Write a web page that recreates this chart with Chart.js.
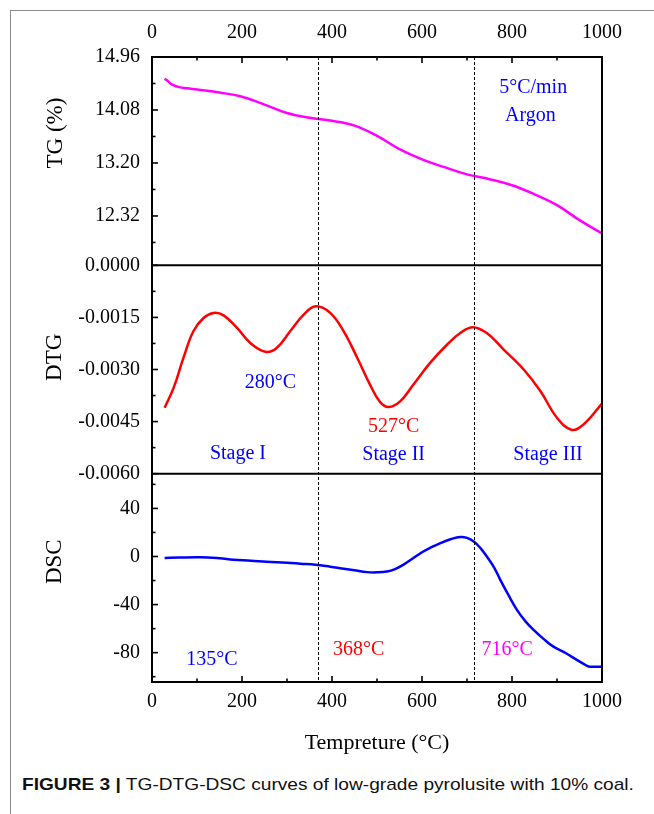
<!DOCTYPE html>
<html>
<head>
  <meta charset="UTF-8">
  <title>TG-DTG-DSC</title>
  <script src="https://cdn.jsdelivr.net/npm/chart.js"></script>
  <style>
    body { margin: 0; background: #fff; }
    #page { position: relative; width: 654px; height: 814px; overflow: hidden; }
    #frame { position: absolute; left: 10px; top: 10px; right: -2px; bottom: -2px;
             border-top: 1px solid #8c8c8c; border-left: 1px solid #8c8c8c; }
    #chart { position: absolute; left: 0; top: 0; }
    #caption { position: absolute; left: 22px; top: 775px; white-space: nowrap;
               font-family: "Liberation Sans", Arial, sans-serif; font-size: 17px; color: #111;
               transform-origin: 0 0; }
    #caption b { font-weight: bold; }
  </style>
</head>
<body>
<div id="page">
  <div id="frame"></div>
  <canvas id="chart" width="654" height="770"></canvas>
  <div id="caption"><b>FIGURE 3 |</b> TG-DTG-DSC curves of low-grade pyrolusite with 10% coal.</div>
</div>

<script>
  // TG curve (%)
  var tgTemp  = [28, 35, 45, 60, 80, 100, 150, 200, 250, 300, 350, 400, 450, 500, 550, 600, 650, 700, 750, 800, 850, 900, 950, 1000];
  var tgValue = [14.60, 14.56, 14.50, 14.46, 14.44, 14.42, 14.37, 14.30, 14.17, 14.03, 13.95, 13.90, 13.82, 13.65, 13.43, 13.26, 13.13, 13.01, 12.93, 12.83, 12.68, 12.50, 12.25, 12.03];

  // DTG curve
  var dtgTemp  = [28, 48, 70, 92, 115, 137, 159, 189, 218, 252, 277, 307, 337, 364, 396, 426, 456, 485, 507, 526, 552, 581, 618, 656, 685, 713, 744, 781, 826, 863, 900, 933, 959, 1000];
  var dtgValue = [-0.00410, -0.00353, -0.00266, -0.00190, -0.00151, -0.00137, -0.00144, -0.00180, -0.00223, -0.00249, -0.00238, -0.00190, -0.00142, -0.00118, -0.00137, -0.00190, -0.00266, -0.00345, -0.00394, -0.00408, -0.00391, -0.00343, -0.00281, -0.00228, -0.00195, -0.00178, -0.00195, -0.00242, -0.00300, -0.00362, -0.00439, -0.00474, -0.00458, -0.00398];

  // DSC curve
  var dscTemp  = [28, 60, 107, 150, 181, 220, 255, 300, 330, 363, 396, 418, 450, 478, 500, 522, 540, 560, 580, 600, 620, 641, 665, 685, 700, 715, 730, 744, 760, 774, 792, 811, 830, 848, 870, 892, 920, 944, 960, 970, 985, 1000];
  var dscValue = [-1.3, -0.9, -0.6, -1.5, -2.7, -3.5, -4.4, -5.2, -6.0, -6.9, -8.5, -9.7, -11.5, -13.0, -13.2, -12.5, -10.5, -6.5, -1.5, 3.5, 7.5, 11.2, 14.5, 16.2, 15.5, 12.5, 7.0, 0, -9, -19.4, -32, -44.4, -54, -61, -68.5, -75, -80.5, -86, -89.5, -91.5, -91.7, -91.7];

  // tick labels
  var xTicks = [0, 200, 400, 600, 800, 1000];
  var xMinor = [100, 300, 500, 700, 900];
  var tgTicks = [14.96, 14.08, 13.20, 12.32];
  var tgMinor = [14.52, 13.64, 12.76, 11.88];
  var dtgTicks = [0, -0.0015, -0.0030, -0.0045, -0.0060];
  var dtgMinor = [-0.00075, -0.00225, -0.00375, -0.00525];
  var dscTicks = [40, 0, -40, -80];
  var dscMinor = [60, 20, -20, -60, -100];
  var stageLines = [368, 716];

  function pts(xs, ys) {
    return xs.map(function(x, i) { return {x: x, y: ys[i]}; });
  }

  var serif = 'Liberation Serif, Times New Roman, serif';
  var blue = '#0000ff', red = '#ff0000', magenta = '#ff00ff';

  // text placed in data coordinates of each panel
  var notes = [
    {text: '5\u00b0C/min', x: 847, y: 14.452, axis: 'tg', color: blue},
    {text: 'Argon', x: 841, y: 13.988, axis: 'tg', color: blue},
    {text: '280\u00b0C', x: 263, y: -0.00338, axis: 'dtg', color: blue},
    {text: '527\u00b0C', x: 537, y: -0.00465, axis: 'dtg', color: red},
    {text: 'Stage I', x: 191, y: -0.00544, axis: 'dtg', color: blue},
    {text: 'Stage II', x: 537, y: -0.00546, axis: 'dtg', color: blue},
    {text: 'Stage III', x: 880, y: -0.00546, axis: 'dtg', color: blue},
    {text: '135\u00b0C', x: 133, y: -86.1, axis: 'dsc', color: blue},
    {text: '368\u00b0C', x: 459, y: -77.8, axis: 'dsc', color: red},
    {text: '716\u00b0C', x: 789, y: -77.8, axis: 'dsc', color: magenta}
  ];

  function fixTicks(list) {
    return function(scale) { scale.ticks = list.map(function(v) { return {value: v}; }); };
  }

  function xScale(pos, list) {
    return {
      type: 'linear', position: pos, min: 0, max: 1000,
      afterBuildTicks: fixTicks(list),
      afterFit: function(s) { s.height = pos === 'top' ? 57 : 88; },
      ticks: {font: {family: serif, size: 20}, color: '#000', padding: pos === 'top' ? 12 : 8, maxRotation: 0, autoSkip: false,
              callback: function(v) { return String(v); }},
      grid: {display: false, drawTicks: false},
      border: {display: false}
    };
  }

  function yScale(min, max, list, fmt) {
    return {
      type: 'linear', position: 'left', stack: 'panels', stackWeight: 1, min: min, max: max,
      afterBuildTicks: fixTicks(list),
      afterFit: function(s) { s.width = 152; },
      ticks: {font: {family: serif, size: 20}, color: '#000', padding: 12, autoSkip: false, callback: fmt},
      grid: {display: false, drawTicks: false},
      border: {display: false}
    };
  }

  var decorations = {
    id: 'decorations',
    afterDatasetsDraw: function(chart) {
      var ctx = chart.ctx, a = chart.chartArea, s = chart.scales;
      ctx.save();
      ctx.strokeStyle = '#000';

      // dashed stage lines
      ctx.lineWidth = 1;
      ctx.setLineDash([3, 2]);
      stageLines.forEach(function(t) {
        var px = Math.round(s.x.getPixelForValue(t)) + 0.5;
        ctx.beginPath(); ctx.moveTo(px, a.top); ctx.lineTo(px, a.bottom); ctx.stroke();
      });
      ctx.setLineDash([]);

      // frame and panel separators
      ctx.lineWidth = 2;
      ctx.strokeRect(a.left, a.top, a.right - a.left, a.bottom - a.top);
      [s.dtg.top, s.dsc.top].forEach(function(y) {
        ctx.beginPath(); ctx.moveTo(a.left, y); ctx.lineTo(a.right, y); ctx.stroke();
      });

      // inward ticks
      ctx.lineWidth = 1.6;
      function yTicks(scale, list, len) {
        list.forEach(function(v) {
          var py = scale.getPixelForValue(v);
          ctx.beginPath(); ctx.moveTo(a.left, py); ctx.lineTo(a.left + len, py); ctx.stroke();
        });
      }
      yTicks(s.tg, tgTicks, 6); yTicks(s.tg, tgMinor, 3.5);
      yTicks(s.dtg, dtgTicks, 6); yTicks(s.dtg, dtgMinor, 3.5);
      yTicks(s.dsc, dscTicks, 6); yTicks(s.dsc, dscMinor, 3.5);
      function xt(list, len) {
        list.forEach(function(v) {
          var px = s.x.getPixelForValue(v);
          ctx.beginPath(); ctx.moveTo(px, a.bottom); ctx.lineTo(px, a.bottom - len); ctx.stroke();
          ctx.beginPath(); ctx.moveTo(px, a.top); ctx.lineTo(px, a.top + len); ctx.stroke();
        });
      }
      xt(xTicks, 6); xt(xMinor, 3.5);

      // axis titles
      ctx.fillStyle = '#000';
      ctx.textAlign = 'center';
      ctx.textBaseline = 'middle';
      ctx.font = '23px ' + serif;
      [['TG (%)', 56, s.tg.top + 76], ['DTG', 55, s.dtg.top + 92], ['DSC', 55, s.dsc.top + 88]].forEach(function(t) {
        ctx.save(); ctx.translate(t[1], t[2]); ctx.rotate(-Math.PI / 2);
        ctx.fillText(t[0], 0, 0); ctx.restore();
      });
      ctx.font = '22px ' + serif;
      ctx.fillText('Tempreture (\u00b0C)', (a.left + a.right) / 2, a.bottom + 61);

      // annotations
      ctx.font = '20px ' + serif;
      notes.forEach(function(n) {
        ctx.fillStyle = n.color;
        ctx.fillText(n.text, s.x.getPixelForValue(n.x), s[n.axis].getPixelForValue(n.y));
      });
      ctx.restore();
    }
  };

  var ctx = document.getElementById('chart').getContext('2d');
  var chart = new Chart(ctx, {
    type: 'line',
    data: {
      datasets: [
        {label: 'TG', data: pts(tgTemp, tgValue), yAxisID: 'tg', borderColor: magenta, borderWidth: 2.5},
        {label: 'DTG', data: pts(dtgTemp, dtgValue), yAxisID: 'dtg', borderColor: red, borderWidth: 2.5},
        {label: 'DSC', data: pts(dscTemp, dscValue), yAxisID: 'dsc', borderColor: blue, borderWidth: 2.5}
      ]
    },
    options: {
      responsive: false,
      animation: false,
      devicePixelRatio: 1,
      layout: {padding: {left: 0, right: 52, top: 0, bottom: 0}},
      elements: {point: {radius: 0}, line: {tension: 0.4}},
      plugins: {legend: {display: false}, tooltip: {enabled: false}},
      scales: {
        x: xScale('bottom', xTicks),
        xTop: xScale('top', xTicks),
        dsc: yScale(-104.4, 68.9, dscTicks, function(v) { return String(Math.round(v)); }),
        dtg: yScale(-0.006, 0, dtgTicks, function(v) { return v.toFixed(4); }),
        tg: yScale(11.5, 14.96, tgTicks, function(v) { return v.toFixed(2); })
      }
    },
    plugins: [decorations]
  });

  // fit caption to the printed width
  var cap = document.getElementById('caption');
  cap.style.transform = 'scaleX(' + (612 / cap.offsetWidth) + ')';
</script>
</body>
</html>
